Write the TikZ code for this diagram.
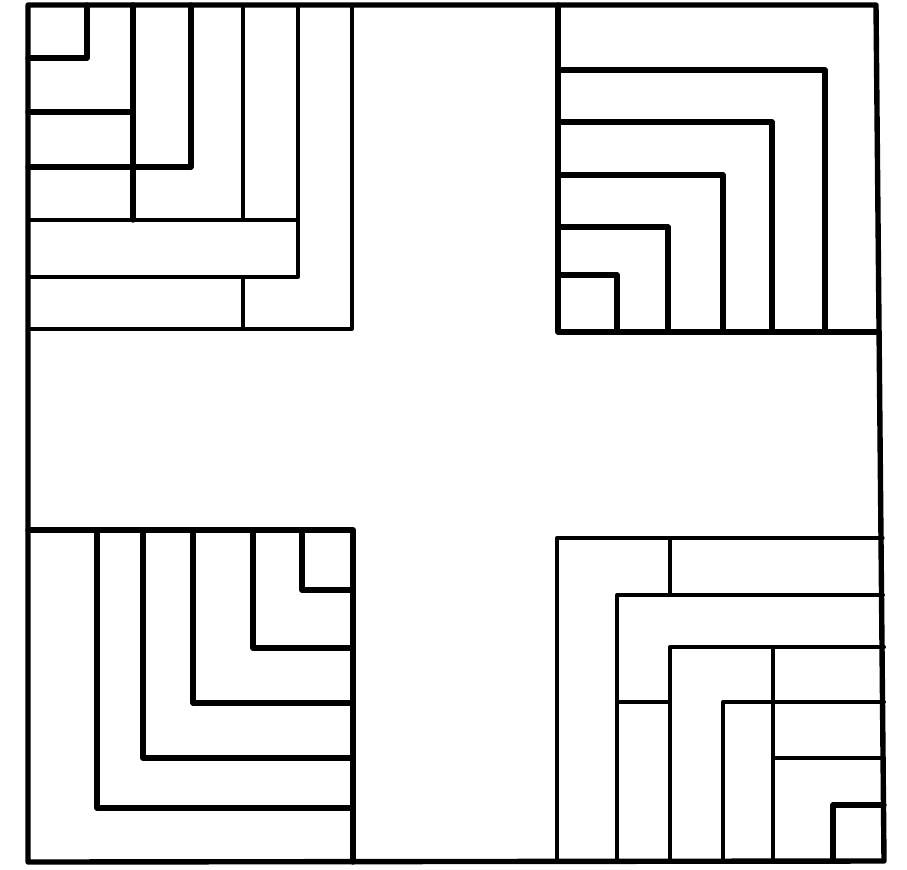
\documentclass[tikz,border=0pt]{standalone}
\usepackage{xcolor}
\usepackage{tikz}

\begin{document}
\begin{tikzpicture}[x=0.3mm, y=-0.3mm, line join=round, line cap=round,
        heavy/.style={draw, line width=4.6pt},
        medium/.style={draw, line width=3.4pt},
        light/.style={draw, line width=2.8pt}]
        \useasboundingbox (0,0) rectangle (907,869);

        % outer frame
        \path[heavy] (28,5) -- (876,5) -- (884,861) -- (28,862) -- cycle;

        % top left block
        \path[light] (352,5) -- (352,329) -- (28,329);
        \path[heavy] (87,5) |- (28,58);
        \path[heavy] (133,5) -- (133,220);
        \path[heavy] (28,112) -- (133,112);
        \path[heavy] (191,5) |- (28,167);
        \path[light] (243,5) -- (243,220);
        \path[light] (28,220) -- (298,220);
        \path[light] (298,5) |- (28,277);
        \path[light] (243,277) -- (243,329);

        % top right block
        \path[heavy] (558,5) |- (876,332);
        \foreach \x/\y in {825/70, 772/122, 723/175, 668/227, 617/275}
            \path[heavy] (558,\y) -| (\x,332);

        % bottom left block
        \path[heavy] (28,530) -| (353,862);
        \foreach \x/\y in {97/808, 143/758, 193/703, 253/648, 302/590}
            \path[heavy] (\x,530) |- (353,\y);

        % bottom right block
        \path[light] (557,861) |- (883,538);
        \path[light] (670,538) -- (670,595);
        \path[medium] (617,861) |- (883,595);
        \path[light] (617,702) -- (670,702);
        \path[medium] (670,861) |- (884,647);
        \path[medium] (773,647) -- (773,861);
        \path[medium] (723,861) |- (884,702);
        \path[medium] (773,758) -- (884,758);
        \path[heavy] (833,861) |- (884,805);
\end{tikzpicture}
\end{document}
